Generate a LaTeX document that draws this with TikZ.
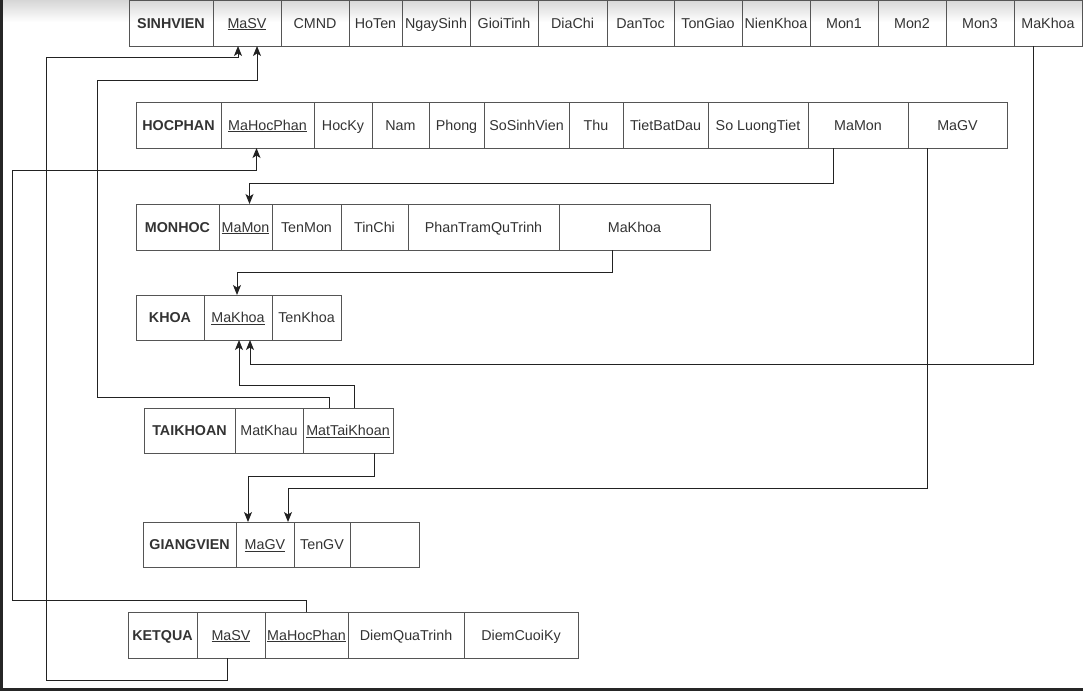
\documentclass[tikz,border=0pt]{standalone}
\usepackage{fontspec}
\setmainfont{Liberation Sans}
\usetikzlibrary{positioning, arrows.meta}
\definecolor{linegray}{HTML}{222222}
\definecolor{boxgray}{HTML}{555555}
\definecolor{textgray}{HTML}{333333}
\tikzstyle{table} = [rectangle, 
draw=boxgray, 
line width=1pt, 
outer sep=0pt, 
inner sep=1pt, 
minimum height=46pt, 
text height=12pt, 
text depth=2pt, 
text=textgray, 
font=\fontsize{14.3}{16}\selectfont\bfseries, 
anchor=west]
\tikzstyle{attr} = [rectangle, 
draw=boxgray, 
line width=1pt, 
outer sep=0pt, 
inner sep=1pt, 
minimum height=46pt, 
text height=12pt, 
text depth=2pt, 
text=textgray, 
font=\fontsize{14.3}{16}\selectfont]
\tikzstyle{arrow} = [line width=1pt, draw=linegray, -{Stealth[length=10pt,width=8pt,inset=2.5pt]}]
\begin{document}
\begin{tikzpicture}[x=1pt, y=-1pt, node distance=0pt]

\useasboundingbox (0,0) rectangle (1083,691);
\shade [top color=black!16, bottom color=white] (0,0) rectangle (1083,22);
\fill [black!85] (0,0) rectangle (3,691);
\fill [black!85] (0,688) rectangle (1083,691);

% SINHVIEN
\begin{scope}[every node/.append style={minimum height=44pt}]
\node (sv) [table, minimum width=84pt] at (129,23) {SINHVIEN};
\node (svMaSV) [attr, right=of sv, minimum width=68pt] {\underline{MaSV}};
\node (svCMND) [attr, right=of svMaSV, minimum width=68pt] {CMND};
\node (svHoTen) [attr, right=of svCMND, minimum width=53pt] {HoTen};
\node (svNgaySinh) [attr, right=of svHoTen, minimum width=68pt] {NgaySinh};
\node (svGioiTinh) [attr, right=of svNgaySinh, minimum width=68pt] {GioiTinh};
\node (svDiaChi) [attr, right=of svGioiTinh, minimum width=69pt] {DiaChi};
\node (svDanToc) [attr, right=of svDiaChi, minimum width=67pt] {DanToc};
\node (svTonGiao) [attr, right=of svDanToc, minimum width=68pt] {TonGiao};
\node (svNienKhoa) [attr, right=of svTonGiao, minimum width=68pt] {NienKhoa};
\node (svMon1) [attr, right=of svNienKhoa, minimum width=68pt] {Mon1};
\node (svMon2) [attr, right=of svMon1, minimum width=68pt] {Mon2};
\node (svMon3) [attr, right=of svMon2, minimum width=68pt] {Mon3};
\node (svMaKhoa) [attr, right=of svMon3, minimum width=68pt] {MaKhoa};
\end{scope}

% HOCPHAN
\node (hp) [table, minimum width=85pt] at (136,125) {HOCPHAN};
\node (hpMaHocPhan) [attr, right=of hp, minimum width=93pt] {\underline{MaHocPhan}};
\node (hpHocKy) [attr, right=of hpMaHocPhan, minimum width=58pt] {HocKy};
\node (hpNam) [attr, right=of hpHocKy, minimum width=57pt] {Nam};
\node (hpPhong) [attr, right=of hpNam, minimum width=55pt] {Phong};
\node (hpSoSinhVien) [attr, right=of hpPhong, minimum width=85pt] {SoSinhVien};
\node (hpThu) [attr, right=of hpSoSinhVien, minimum width=54pt] {Thu};
\node (hpTietBatDau) [attr, right=of hpThu, minimum width=85pt] {TietBatDau};
\node (hpSoLuongTiet) [attr, right=of hpTietBatDau, minimum width=100pt] {So LuongTiet};
\node (hpMaMon) [attr, right=of hpSoLuongTiet, minimum width=100pt] {MaMon};
\node (hpMaGV) [attr, right=of hpMaMon, minimum width=99pt] {MaGV};

% MONHOC
\node (mh) [table, minimum width=83pt] at (136,227) {MONHOC};
\node (mhMaMon) [attr, right=of mh, minimum width=53pt] {\underline{MaMon}};
\node (mhTenMon) [attr, right=of mhMaMon, minimum width=69pt] {TenMon};
\node (mhTinChi) [attr, right=of mhTenMon, minimum width=67pt] {TinChi};
\node (mhPhanTram) [attr, right=of mhTinChi, minimum width=151pt] {PhanTramQuTrinh};
\node (mhMaKhoa) [attr, right=of mhPhanTram, minimum width=151pt] {MaKhoa};

% KHOA
\node (kh) [table, minimum width=68pt, minimum height=45pt] at (136,317.5) {KHOA};
\node (khMaKhoa) [attr, right=of kh, minimum width=68pt, minimum height=45pt] {\underline{MaKhoa}};
\node (khTenKhoa) [attr, right=of khMaKhoa, minimum width=69pt, minimum height=45pt] {TenKhoa};

% TAIKHOAN
\node (tk) [table, minimum width=91pt, minimum height=45pt] at (144,430.5) {TAIKHOAN};
\node (tkMatKhau) [attr, right=of tk, minimum width=68pt, minimum height=45pt] {MatKhau};
\node (tkMatTaiKhoan) [attr, right=of tkMatKhau, minimum width=90pt, minimum height=45pt] {\underline{MatTaiKhoan}};

% GIANGVIEN
\node (gv) [table, minimum width=93pt, minimum height=45pt] at (143,544.5) {GIANGVIEN};
\node (gvMaGV) [attr, right=of gv, minimum width=58pt, minimum height=45pt] {\underline{MaGV}};
\node (gvTenGV) [attr, right=of gvMaGV, minimum width=56pt, minimum height=45pt] {TenGV};
\node (gvEmpty) [attr, right=of gvTenGV, minimum width=69pt, minimum height=45pt] {};

% KETQUA
\node (kq) [table, minimum width=69pt] at (128,635) {KETQUA};
\node (kqMaSV) [attr, right=of kq, minimum width=68pt] {\underline{MaSV}};
\node (kqMaHocPhan) [attr, right=of kqMaSV, minimum width=83pt] {\underline{MaHocPhan}};
\node (kqDiemQuaTrinh) [attr, right=of kqMaHocPhan, minimum width=116pt] {DiemQuaTrinh};
\node (kqDiemCuoiKy) [attr, right=of kqDiemQuaTrinh, minimum width=114pt] {DiemCuoiKy};

% khoa ngoai
\draw [arrow] ([xshift=-4pt]kqMaSV.south) -- ++(0,22) -- ++(-181,0) -- ++(0,-623) -| ([xshift=-9pt]svMaSV.south);
\draw [arrow] ([xshift=-19pt]tkMatTaiKhoan.north) -- ++(0,-11) -- ++(-232,0) -- ++(0,-317) -| ([xshift=10pt]svMaSV.south);
\draw [arrow] (kqMaHocPhan.north) -- ++(0,-12) -- ++(-294,0) -- ++(0,-430) -| ([xshift=-11pt]hpMaHocPhan.south);
\draw [arrow] ([xshift=-25pt]hpMaMon.south) -- ++(0,35) -| ([xshift=4pt]mhMaMon.north);
\draw [arrow] ([xshift=-30pt]hpMaGV.south) -- ++(0,340) -| ([xshift=23pt]gvMaGV.north);
\draw [arrow] ([xshift=26pt]tkMatTaiKhoan.south) -- ++(0,23) -| ([xshift=-17pt]gvMaGV.north);
\draw [arrow] ([xshift=-22pt]mhMaKhoa.south) -- ++(0,22) -| ([xshift=-1pt]khMaKhoa.north);
\draw [arrow] ([xshift=-15pt]svMaKhoa.south) -- ++(0,318) -| ([xshift=12pt]khMaKhoa.south);
\draw [arrow] ([xshift=6pt]tkMatTaiKhoan.north) -- ++(0,-23) -| ([xshift=1pt]khMaKhoa.south);

\end{tikzpicture}
\end{document}
